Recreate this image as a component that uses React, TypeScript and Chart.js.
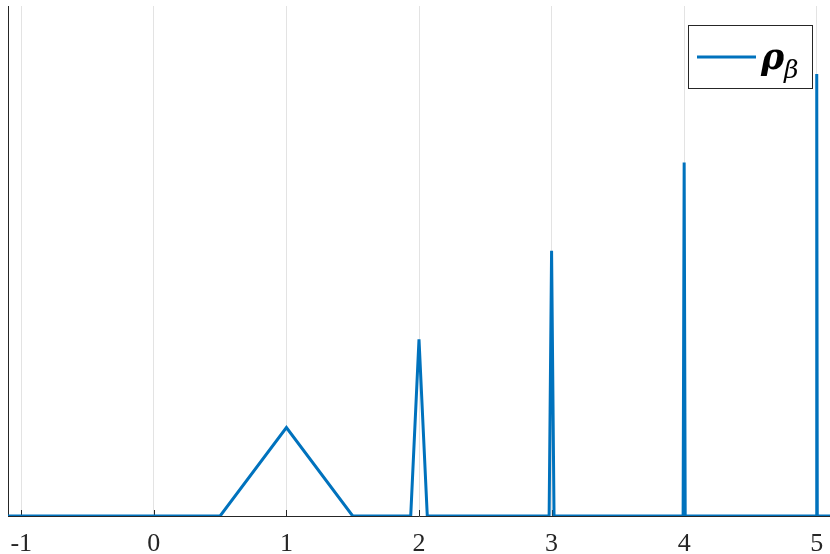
import React, { useEffect, useRef } from "react";
import { Chart, registerables } from "chart.js";

Chart.register(...registerables);

// Data
const peakCenters = [1, 2, 3, 4, 5];
const peakHeights = [1, 2, 3, 4, 5];
const peakHalfWidths = [0.5, 0.0625, 0.0185, 0.0078, 0.004];
const xLimits = [-1.1, 5.1];
const yLimits = [0, 5.77];
const xTickValues = [-1, 0, 1, 2, 3, 4, 5];
const xTickLabels = ["-1", "0", "1", "2", "3", "4", "5"];
const seriesLabel = "ρ";
const seriesSub = "β";

const LINE_COLOR = "#0072BD";
const AXIS_COLOR = "#262626";
const GRID_COLOR = "#e3e3e3";

function buildPoints() {
  const pts: { x: number; y: number }[] = [{ x: xLimits[0], y: 0 }];
  for (let i = 0; i < peakCenters.length; i++) {
    const c = peakCenters[i];
    const w = peakHalfWidths[i];
    pts.push({ x: c - w, y: 0 });
    pts.push({ x: c, y: peakHeights[i] });
    pts.push({ x: c + w, y: 0 });
  }
  pts.push({ x: xLimits[1], y: 0 });
  return pts;
}

const axesPlugin = {
  id: "matlabAxes",
  beforeDatasetsDraw(chart: any) {
    const { ctx, chartArea } = chart;
    const xs = chart.scales.x;
    ctx.save();
    ctx.strokeStyle = AXIS_COLOR;
    ctx.lineWidth = 1;
    // left axis line
    ctx.beginPath();
    ctx.moveTo(chartArea.left + 0.5, chartArea.top);
    ctx.lineTo(chartArea.left + 0.5, chartArea.bottom);
    ctx.stroke();
    // inward ticks
    for (const v of xTickValues) {
      const px = Math.round(xs.getPixelForValue(v)) + 0.5;
      ctx.beginPath();
      ctx.moveTo(px, chartArea.bottom);
      ctx.lineTo(px, chartArea.bottom - 6);
      ctx.stroke();
    }
    ctx.restore();
  },
  afterDraw(chart: any) {
    const { ctx } = chart;
    ctx.save();
    // legend box
    const bx = 688.5, by = 25.5, bw = 124, bh = 63;
    ctx.fillStyle = "#ffffff";
    ctx.fillRect(bx, by, bw, bh);
    ctx.strokeStyle = AXIS_COLOR;
    ctx.lineWidth = 1;
    ctx.strokeRect(bx, by, bw, bh);
    // sample line
    ctx.strokeStyle = LINE_COLOR;
    ctx.lineWidth = 3;
    ctx.beginPath();
    ctx.moveTo(697, 57);
    ctx.lineTo(756, 57);
    ctx.stroke();
    // label
    ctx.fillStyle = "#000000";
    ctx.textBaseline = "alphabetic";
    ctx.textAlign = "left";
    ctx.font = "bold italic 35px 'DejaVu Serif'";
    ctx.fillText(seriesLabel, 761, 69);
    ctx.font = "italic 25px 'DejaVu Serif'";
    ctx.fillText(seriesSub, 784, 78);
    ctx.restore();
  },
};

export default function App() {
  const ref = useRef<HTMLCanvasElement | null>(null);
  useEffect(() => {
    if (!ref.current) return;
    const chart = new Chart(ref.current, {
      type: "line",
      data: {
        datasets: [
          {
            label: seriesLabel + seriesSub,
            data: buildPoints(),
            borderColor: LINE_COLOR,
            backgroundColor: LINE_COLOR,
            borderWidth: 3,
            pointRadius: 0,
            tension: 0,
            fill: false,
          },
        ],
      },
      options: {
        responsive: false,
        animation: false,
        layout: { padding: { left: 8, top: 6, right: 0, bottom: 0 } },
        plugins: { legend: { display: false }, tooltip: { enabled: false } },
        scales: {
          x: {
            type: "linear",
            min: xLimits[0],
            max: xLimits[1],
            afterBuildTicks(scale: any) {
              scale.ticks = xTickValues.map((v) => ({ value: v }));
            },
            afterFit(scale: any) {
              scale.height = 38;
            },
            ticks: {
              autoSkip: false,
              maxRotation: 0,
              padding: 4,
              color: "#262626",
              font: { family: "'Liberation Serif'", size: 26, lineHeight: 1.85 },
              callback(value: any) {
                const i = xTickValues.indexOf(Number(value));
                return i >= 0 ? xTickLabels[i] : "";
              },
            },
            grid: { color: GRID_COLOR, lineWidth: 1, drawTicks: false },
            border: { display: true, color: AXIS_COLOR, width: 1 },
          },
          y: {
            display: false,
            min: yLimits[0],
            max: yLimits[1],
          },
        },
      },
      plugins: [axesPlugin],
    });
    return () => chart.destroy();
  }, []);
  return (
    <div style={{ position: "absolute", left: 0, top: 0, width: 830, height: 554 }}>
      <canvas ref={ref} width={830} height={554} style={{ display: "block" }} />
    </div>
  );
}
